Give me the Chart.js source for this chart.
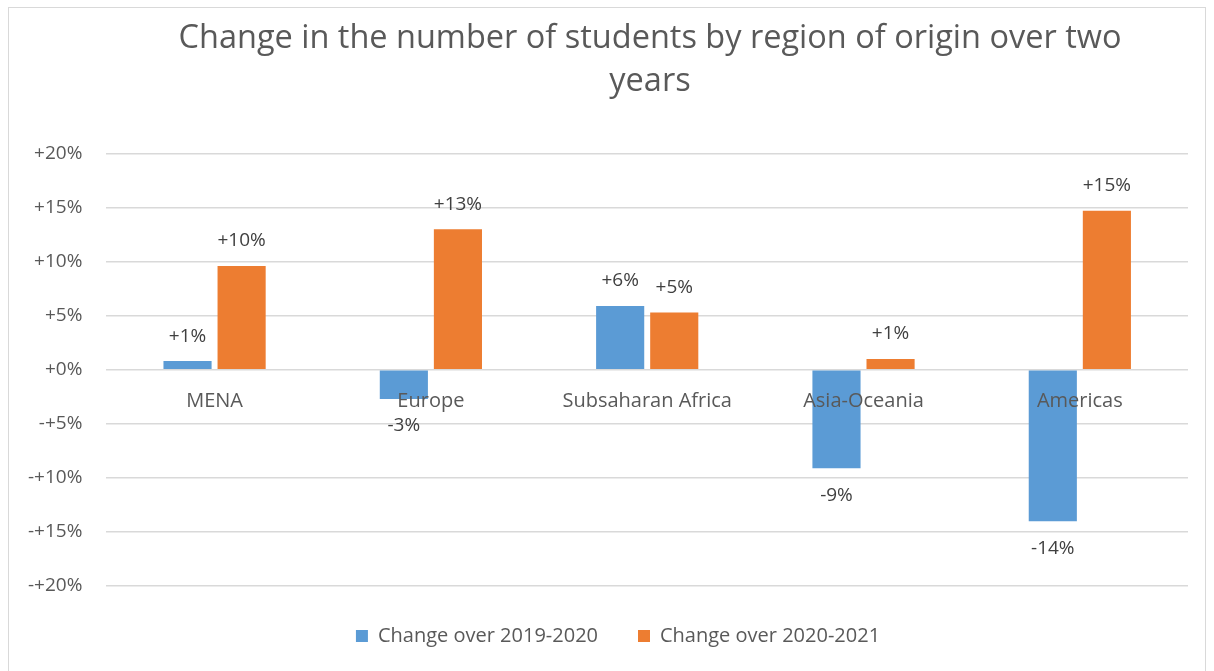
<!DOCTYPE html>
<html>
<head>
<meta charset="utf-8">
<script src="https://cdn.jsdelivr.net/npm/chart.js@4"></script>
<style>
  html, body { margin: 0; padding: 0; background: #fff; }
  #wrap { position: relative; width: 1214px; height: 671px; overflow: hidden; }
  #frame { position: absolute; left: 8px; top: 7px; width: 1198px; height: 700px; border: 1px solid #d9d9d9; box-sizing: border-box; }
  canvas { position: absolute; left: 0; top: 0; }
</style>
</head>
<body>
<div id="wrap">
  <div id="frame"></div>
  <canvas id="chart" width="1214" height="671"></canvas>
</div>
<script>
// data
const regions = ['MENA', 'Europe', 'Subsaharan Africa', 'Asia-Oceania', 'Americas'];
const change2019_2020 = [0.8, -2.7, 5.9, -9.1, -14.0];
const change2020_2021 = [9.6, 13.0, 5.3, 1.0, 14.7];
const seriesNames = ['Change over 2019-2020', 'Change over 2020-2021'];
const yTicks = [-20, -15, -10, -5, 0, 5, 10, 15, 20];

const FONT = "'Open Sans', sans-serif";

function fmtPct(v) {
    // excel style custom format "+0%;-+0%"
    return v < 0 ? '-+' + Math.abs(v) + '%' : '+' + v + '%';
}

// draws the value labels above/below each bar
const barLabels = {
    id: 'barLabels',
    afterDatasetsDraw(chart) {
        const ctx = chart.ctx;
        ctx.save();
        ctx.font = '19px ' + FONT;
        ctx.fillStyle = '#404040';
        ctx.textAlign = 'center';
        ctx.textBaseline = 'middle';
        chart.data.datasets.forEach((ds, i) => {
            const meta = chart.getDatasetMeta(i);
            meta.data.forEach((bar, j) => {
                const v = ds.data[j];
                const txt = (v < 0 ? '-' : '+') + Math.round(Math.abs(v)) + '%';
                const y = v < 0 ? bar.y + 27 : bar.y - 25;
                ctx.fillText(txt, bar.x, y);
            });
        });
        ctx.restore();
    }
};

// fixed legend height so the plot ends where the excel one does,
// and title/legend centred a bit right like in the original
const boxTweaks = {
    id: 'boxTweaks',
    beforeLayout(chart) {
        const lg = chart.legend;
        if (lg && !lg._fixed) {
            const fit = lg.fit;
            lg.fit = function() {
                fit.call(this);
                this.height = 85;
            };
            lg._fixed = true;
        }
    },
    afterLayout(chart) {
        if (chart.titleBlock) {
            chart.titleBlock.left += 54;
            chart.titleBlock.right += 54;
        }
        if (chart.legend) {
            chart.legend.left += 22;
            chart.legend.right += 22;
        }
    }
};

const ctx = document.getElementById('chart');

new Chart(ctx.getContext('2d'), {
    type: 'bar',
    data: {
        labels: regions,
        datasets: [
            {
                label: seriesNames[0],
                data: change2019_2020,
                backgroundColor: '#5b9bd5',
                categoryPercentage: 0.5,
                barPercentage: 0.89
            },
            {
                label: seriesNames[1],
                data: change2020_2021,
                backgroundColor: '#ed7d31',
                categoryPercentage: 0.5,
                barPercentage: 0.89
            }
        ]
    },
    options: {
        responsive: false,
        animation: false,
        layout: {
            padding: { left: 4, right: 26, top: 12, bottom: 0 }
        },
        plugins: {
            title: {
                display: true,
                text: ['Change in the number of students by region of origin over two', 'years'],
                color: '#595959',
                font: { size: 32.5, family: FONT, weight: 'normal', lineHeight: 1.3 },
                padding: { top: 6, bottom: 51 }
            },
            legend: {
                position: 'bottom',
                labels: {
                    color: '#595959',
                    font: { size: 20, family: FONT },
                    boxWidth: 12,
                    boxHeight: 12,
                    padding: 40
                }
            },
            tooltip: { enabled: false }
        },
        scales: {
            x: {
                position: { y: 0 },
                grid: { display: false },
                border: { display: false },
                ticks: {
                    z: 1,
                    color: '#595959',
                    font: { size: 20, family: FONT },
                    padding: 12
                }
            },
            y: {
                min: -20,
                max: 20,
                afterBuildTicks(axis) {
                    axis.ticks = yTicks.map(v => ({ value: v }));
                },
                grid: { color: '#d9d9d9', lineWidth: 1.5, drawTicks: false },
                border: { display: false },
                ticks: {
                    color: '#595959',
                    font: { size: 19, family: FONT },
                    padding: 24,
                    callback: v => fmtPct(v)
                }
            }
        }
    },
    plugins: [barLabels, boxTweaks]
});
</script>
</body>
</html>
